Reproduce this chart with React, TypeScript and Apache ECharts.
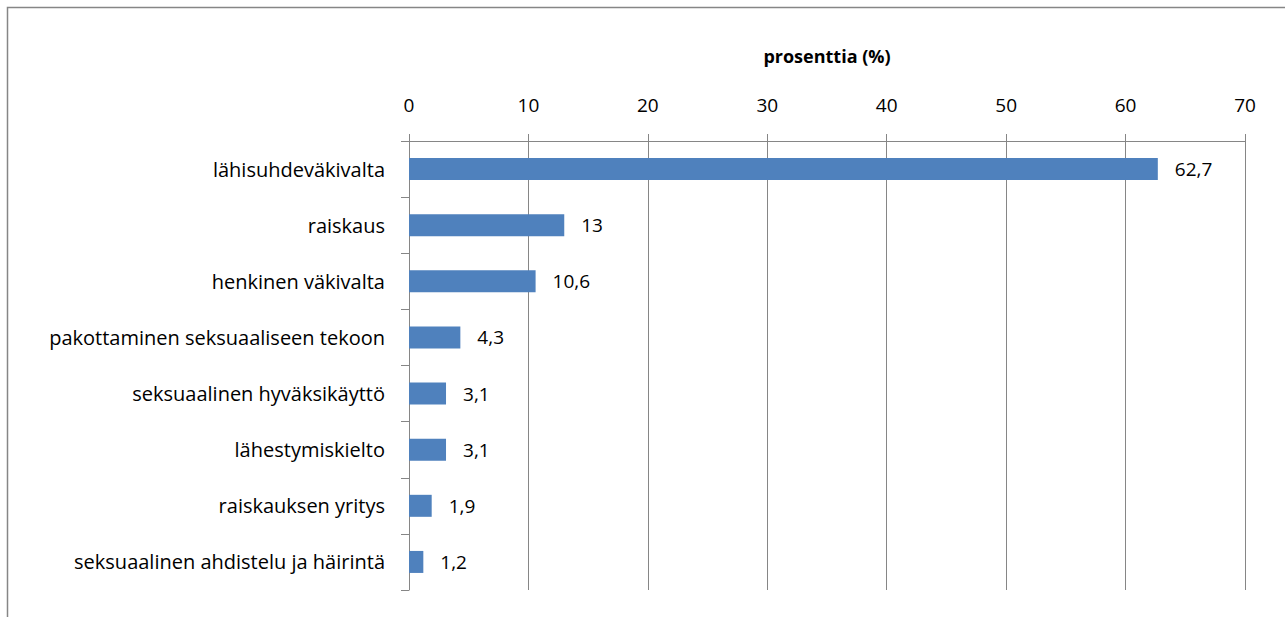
import React, { useEffect, useRef } from "react";
import * as echarts from "echarts";

const categories = [
  "lähisuhdeväkivalta",
  "raiskaus",
  "henkinen väkivalta",
  "pakottaminen seksuaaliseen tekoon",
  "seksuaalinen hyväksikäyttö",
  "lähestymiskielto",
  "raiskauksen yritys",
  "seksuaalinen ahdistelu ja häirintä",
];
const values = [62.7, 13, 10.6, 4.3, 3.1, 3.1, 1.9, 1.2];
const axisTitle = "prosenttia (%)";

const FONT = "'Open Sans', 'Noto Sans', sans-serif";
const GREY = "#868686";

export default function App() {
  const ref = useRef<HTMLDivElement>(null);
  useEffect(() => {
    if (!ref.current) return;
    const chart = echarts.init(ref.current, undefined, { renderer: "svg" });
    chart.setOption({
      animation: false,
      backgroundColor: "#ffffff",
      textStyle: { fontFamily: FONT },
      graphic: [
        {
          type: "rect",
          shape: { x: 7.5, y: 7.5, width: 1400, height: 800 },
          style: { fill: "none", stroke: GREY, lineWidth: 1.5 },
          silent: true,
        },
      ],
      grid: { left: 409, right: 40, top: 141, bottom: 27, containLabel: false },
      xAxis: {
        type: "value",
        position: "top",
        min: 0,
        max: 70,
        interval: 10,
        name: axisTitle,
        nameLocation: "middle",
        nameGap: 76,
        nameTextStyle: { fontFamily: FONT, fontSize: 18, fontWeight: "bold", color: "#000" },
        axisLine: { show: true, lineStyle: { color: GREY, width: 1 } },
        axisTick: { show: true, inside: false, length: 7, lineStyle: { color: GREY } },
        splitLine: { show: true, lineStyle: { color: GREY, width: 1 } },
        axisLabel: { fontFamily: FONT, fontSize: 19, color: "#000", margin: 27 },
      },
      yAxis: {
        type: "category",
        inverse: true,
        data: categories,
        axisLine: { show: true, lineStyle: { color: GREY, width: 1 } },
        axisTick: { show: true, length: 8, alignWithLabel: false, lineStyle: { color: GREY } },
        axisLabel: { fontFamily: FONT, fontSize: 20, color: "#000", margin: 24 },
        splitLine: { show: false },
      },
      series: [
        {
          type: "bar",
          data: values,
          barWidth: 22,
          itemStyle: { color: "#4F81BD" },
          label: {
            show: true,
            position: "right",
            distance: 17,
            fontFamily: FONT,
            fontSize: 19,
            color: "#000",
            formatter: (p: any) => String(p.value).replace(".", ","),
          },
        },
      ],
    });
    return () => chart.dispose();
  }, []);
  return (
    <div
      ref={ref}
      style={{ position: "absolute", left: 0, top: 0, width: 1285, height: 617 }}
    />
  );
}
